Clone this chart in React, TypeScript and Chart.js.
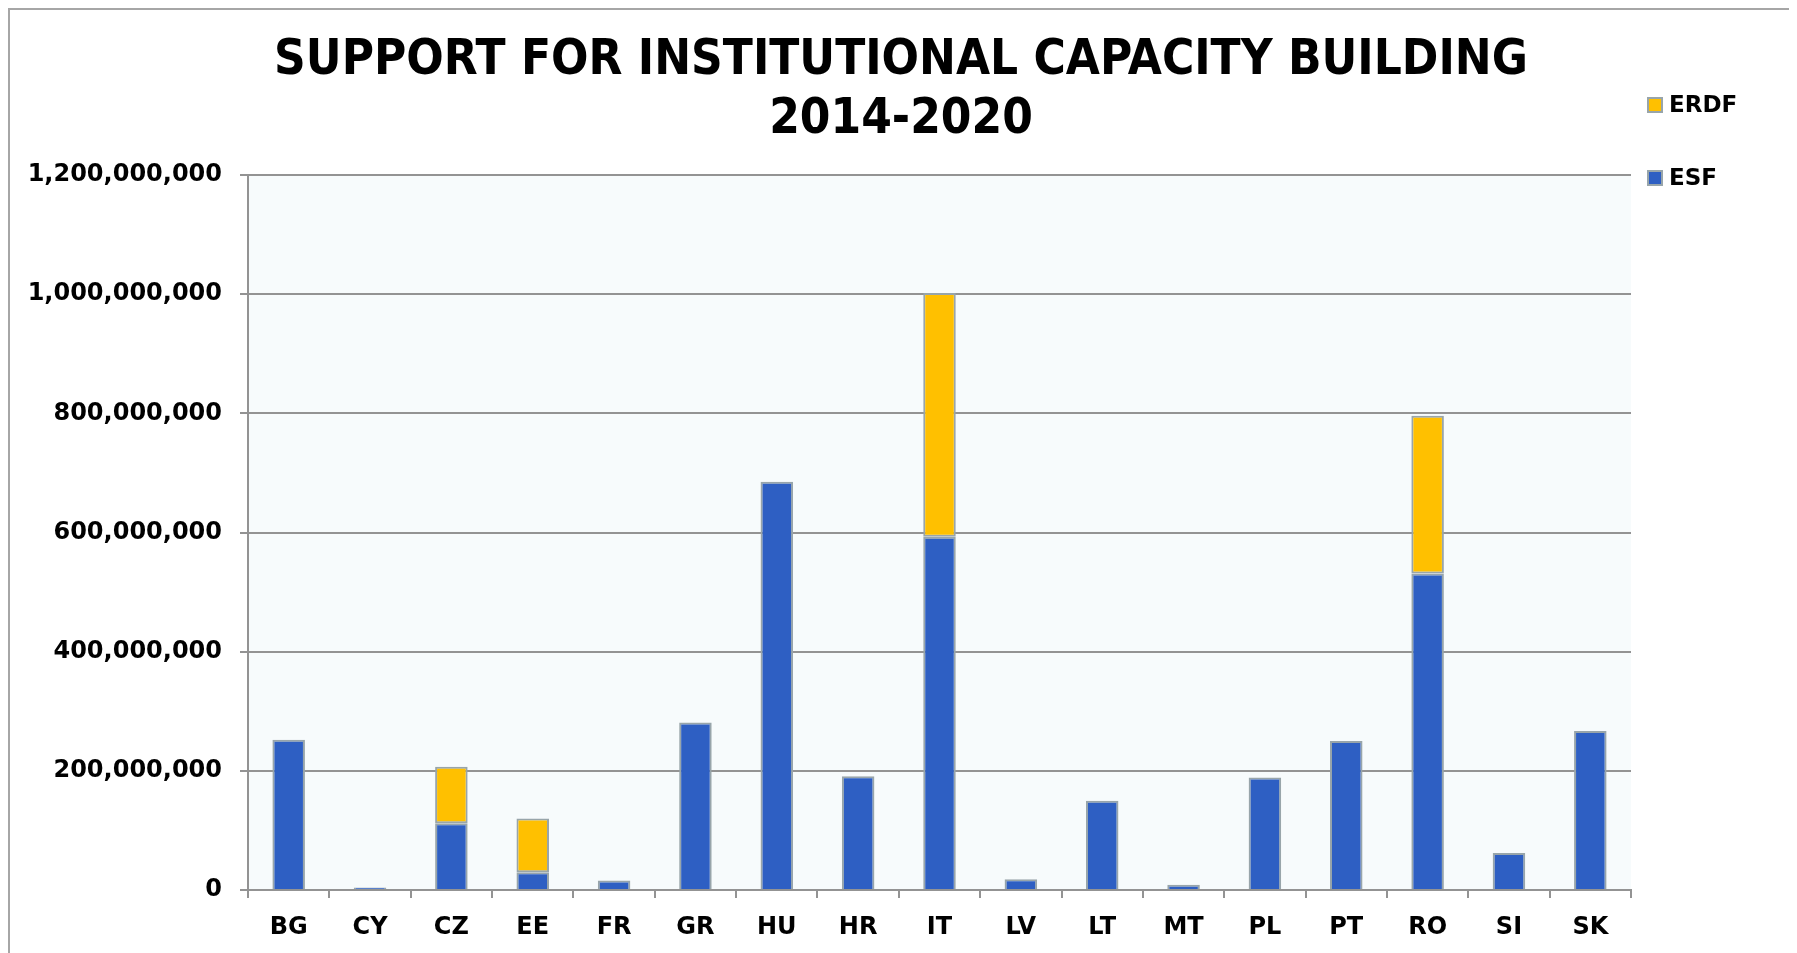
import React, { useEffect, useRef } from 'react';
import { Chart, registerables } from 'chart.js';

Chart.register(...registerables);

const categories = ['BG', 'CY', 'CZ', 'EE', 'FR', 'GR', 'HU', 'HR', 'IT', 'LV', 'LT', 'MT', 'PL', 'PT', 'RO', 'SI', 'SK'];
const esfValues = [252e6, 4e6, 112e6, 30e6, 16e6, 281e6, 685e6, 191e6, 593e6, 18e6, 150e6, 9e6, 189e6, 250e6, 531e6, 62e6, 267e6];
const erdfValues = [null, null, 95e6, 90e6, null, null, null, null, 409e6, null, null, null, null, null, 265e6, null, null];
const titleLines = ['SUPPORT FOR INSTITUTIONAL CAPACITY BUILDING', '2014-2020'];
const yMax = 1200000000;
const yStep = 200000000;

const ESF_COLOR = '#2E5FC3';
const ERDF_COLOR = '#FFC000';
const BAR_BORDER = '#98A5AA';
const GRID = '#939393';

const plotBg = {
  id: 'plotBg',
  beforeDraw(chart: any) {
    const { ctx, chartArea } = chart;
    ctx.save();
    ctx.fillStyle = '#F7FBFC';
    ctx.fillRect(chartArea.left, chartArea.top, chartArea.right - chartArea.left, chartArea.bottom - chartArea.top);
    ctx.restore();
  },
};

const sideLegend = {
  id: 'sideLegend',
  afterDraw(chart: any) {
    const { ctx, chartArea } = chart;
    const ds = chart.data.datasets.slice().reverse();
    const offsets = [-70, 3];
    ctx.save();
    ds.forEach((d: any, i: number) => {
      const cy = chartArea.top + offsets[i];
      const bx = chartArea.right + 16;
      ctx.fillStyle = d.backgroundColor;
      ctx.fillRect(bx, cy - 8, 16, 16);
      ctx.strokeStyle = BAR_BORDER;
      ctx.lineWidth = 2;
      ctx.strokeRect(bx + 1, cy - 7, 14, 14);
      ctx.fillStyle = '#000';
      ctx.font = 'bold 23px "DejaVu Sans", sans-serif';
      ctx.textBaseline = 'middle';
      ctx.textAlign = 'left';
      ctx.fillText(d.label, bx + 22, cy + 1);
    });
    ctx.restore();
  },
};

export default function App() {
  const ref = useRef<HTMLCanvasElement>(null);
  useEffect(() => {
    document.body.style.overflow = 'hidden';
    const chart = new Chart(ref.current as HTMLCanvasElement, {
      type: 'bar',
      data: {
        labels: categories,
        datasets: [
          {
            label: 'ESF',
            data: esfValues,
            backgroundColor: ESF_COLOR,
            borderColor: BAR_BORDER,
            borderWidth: 2,
            borderSkipped: 'bottom',
            categoryPercentage: 1,
            barPercentage: 0.4,
          },
          {
            label: 'ERDF',
            data: erdfValues as any,
            backgroundColor: ERDF_COLOR,
            borderColor: BAR_BORDER,
            borderWidth: 2,
            borderSkipped: false,
            categoryPercentage: 1,
            barPercentage: 0.4,
          },
        ],
      },
      options: {
        responsive: false,
        animation: false,
        layout: { padding: 0 },
        plugins: {
          legend: { display: false },
          tooltip: { enabled: false },
          title: {
            display: true,
            text: titleLines,
            color: '#000',
            font: { family: '"DejaVu Sans Condensed", "DejaVu Sans", sans-serif', size: 49, weight: 'bold', lineHeight: 1.2 },
            padding: { top: 22, bottom: 25.4 },
          },
        },
        scales: {
          x: {
            stacked: true,
            afterFit: (s: any) => { s.height = 63; },
            grid: { display: true, drawOnChartArea: false, drawTicks: true, tickLength: 8, color: GRID, lineWidth: 2 },
            border: { display: true, color: GRID, width: 2 },
            ticks: { color: '#000', padding: 15, font: { family: '"DejaVu Sans", sans-serif', size: 24, weight: 'bold' } },
          },
          y: {
            stacked: true,
            min: 0,
            max: yMax,
            afterFit: (s: any) => { s.width = 238; },
            grid: { color: GRID, lineWidth: 2, drawTicks: true, tickLength: 8 },
            border: { display: true, color: GRID, width: 2 },
            ticks: {
              stepSize: yStep,
              color: '#000',
              padding: 18,
              font: { family: '"DejaVu Sans", sans-serif', size: 24, weight: 'bold' },
              callback: (v: any) => Number(v).toLocaleString('en-US'),
            },
          },
          legendSpace: {
            type: 'linear',
            position: 'right',
            display: true,
            min: 0,
            max: 1,
            afterFit: (s: any) => { s.width = 161; },
            grid: { display: false, drawOnChartArea: false, drawTicks: false },
            border: { display: false },
            ticks: { display: false },
          },
        },
      },
      plugins: [plotBg, sideLegend],
    });
    return () => chart.destroy();
  }, []);
  return (
    <div style={{ width: 1782, height: 943, borderTop: '2px solid #A6A6A6', borderLeft: '2px solid #A6A6A6', borderRight: '2px solid #A6A6A6', background: '#fff' }}>
      <canvas ref={ref} width={1782} height={943} style={{ display: 'block' }} />
    </div>
  );
}
